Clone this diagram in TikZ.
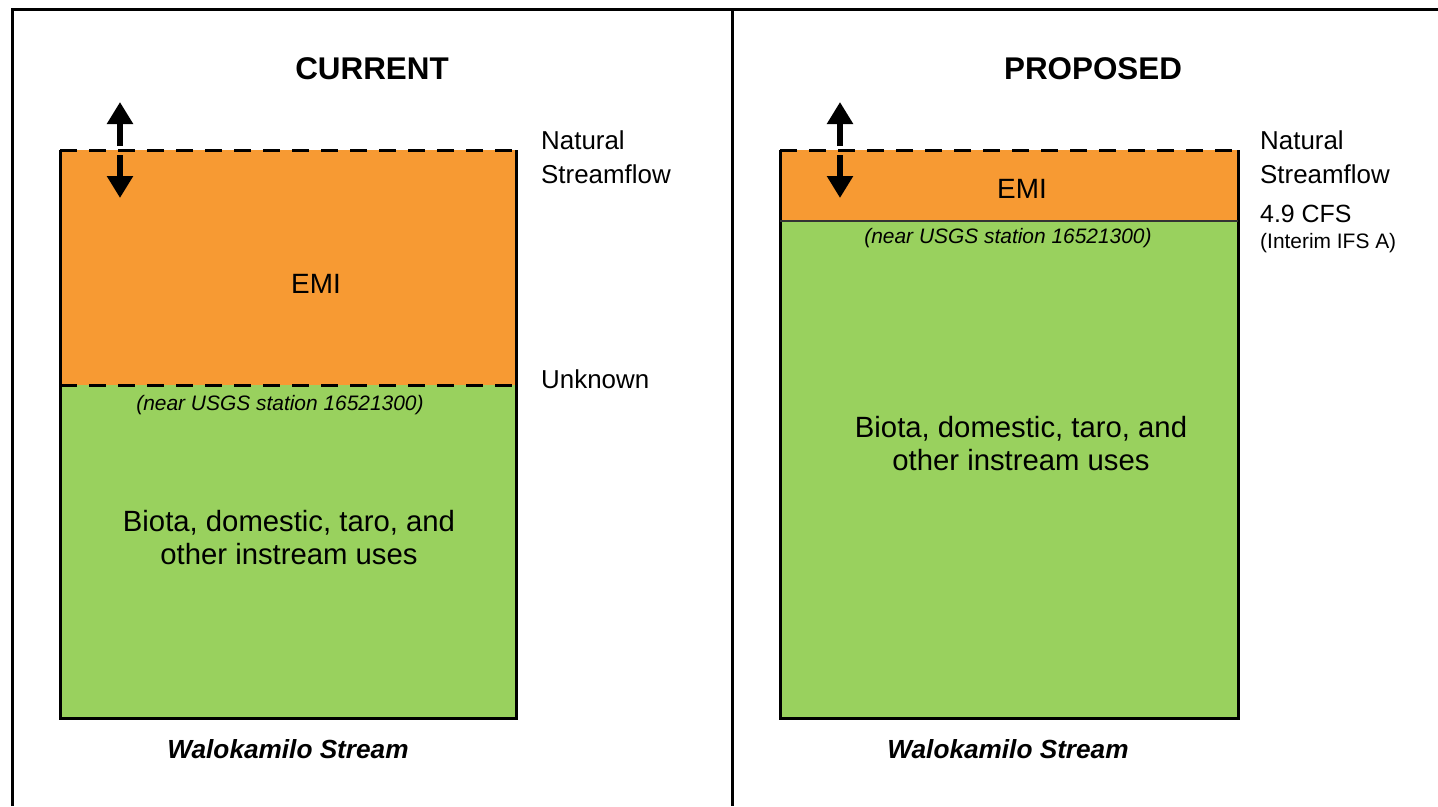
\documentclass[tikz,border=0pt]{standalone}
\usepackage{fontspec}
\setmainfont{Liberation Sans}
\usetikzlibrary{arrows.meta}
\definecolor{emi}{RGB}{247,154,51}
\definecolor{biota}{RGB}{153,209,94}
\begin{document}
\begin{tikzpicture}[x=1bp,y=-1bp,
  frame/.style={line width=3bp},
  boxline/.style={line width=3bp},
  dashline/.style={line width=3bp, dash pattern=on 17bp off 12bp},
  flowarrow/.style={line width=6bp, -{Triangle[width=25bp,length=22bp]}},
  txt/.style={inner sep=0pt, anchor=base},
  side/.style={inner sep=0pt, anchor=base west, font=\fontsize{26}{32}\selectfont},
  title/.style={txt, font=\fontsize{31.5}{36}\selectfont\bfseries},
  emilbl/.style={txt, font=\fontsize{28}{32}\selectfont},
  usgs/.style={txt, font=\fontsize{21}{25}\selectfont\itshape},
  uses/.style={txt, font=\fontsize{29.4}{33}\selectfont},
  stream/.style={txt, font=\fontsize{26.3}{30}\selectfont\bfseries\itshape}]
\useasboundingbox (0,0) rectangle (1438,806);
% frame
\draw[frame] (12,806) -- (12,10) -- (1438,10);
\draw[frame] (732,10) -- (732,806);
% left box
\fill[emi] (60,150) rectangle (516,385);
\fill[biota] (60,385) rectangle (516,718);
\draw[boxline] (60,150) -- (60,718) -- (516,718) -- (516,150);
\draw[dashline] (60,150) -- (516,150);
\draw[dashline] (60,385) -- (516,385);
% right box
\fill[emi] (780,150) rectangle (1238,221);
\fill[biota] (780,221) rectangle (1238,718);
\draw[boxline] (780,150) -- (780,718) -- (1238,718) -- (1238,150);
\draw[dashline] (780,150) -- (1238,150);
\draw[line width=1.2bp, black!80] (780,221) -- (1238,221);
% arrows
\coordinate (lua) at (120,146); \coordinate (lub) at (120,102);
\coordinate (lda) at (120,155); \coordinate (ldb) at (120,198);
\coordinate (rua) at (840,146); \coordinate (rub) at (840,102);
\coordinate (rda) at (840,155); \coordinate (rdb) at (840,198);
\draw[flowarrow] (lua) -- (lub);
\draw[flowarrow] (lda) -- (ldb);
\draw[flowarrow] (rua) -- (rub);
\draw[flowarrow] (rda) -- (rdb);
% titles
\node[title] (tcur) at (372,79) {CURRENT};
\node[title] (tpro) at (1093,79) {PROPOSED};
% left texts
\node[emilbl] (emil) at (316,293) {EMI};
\node[usgs] (usgsl) at (280,410) {(near USGS station 16521300)};
\node[uses] (usesl1) at (289,531) {Biota, domestic, taro, and};
\node[uses] (usesl2) at (289,564) {other instream uses};
\node[stream] (streaml) at (288,758) {Walokamilo Stream};
\node[side] (natl) at (541,149) {Natural};
\node[side] (sfl) at (541,183) {Streamflow};
\node[side] (unk) at (541,388) {Unknown};
% right texts
\node[emilbl] (emir) at (1022,198) {EMI};
\node[usgs] (usgsr) at (1008,243) {(near USGS station 16521300)};
\node[uses] (usesr1) at (1021,437) {Biota, domestic, taro, and};
\node[uses] (usesr2) at (1021,470) {other instream uses};
\node[stream] (streamr) at (1008,758) {Walokamilo Stream};
\node[side] (natr) at (1260,149) {Natural};
\node[side] (sfr) at (1260,183) {Streamflow};
\node[side, font=\fontsize{25}{30}\selectfont] (cfs) at (1260,222) {4.9 CFS};
\node[side, font=\fontsize{21}{25}\selectfont] (ifs) at (1260,248) {(Interim IFS A)};
\end{tikzpicture}
\end{document}
